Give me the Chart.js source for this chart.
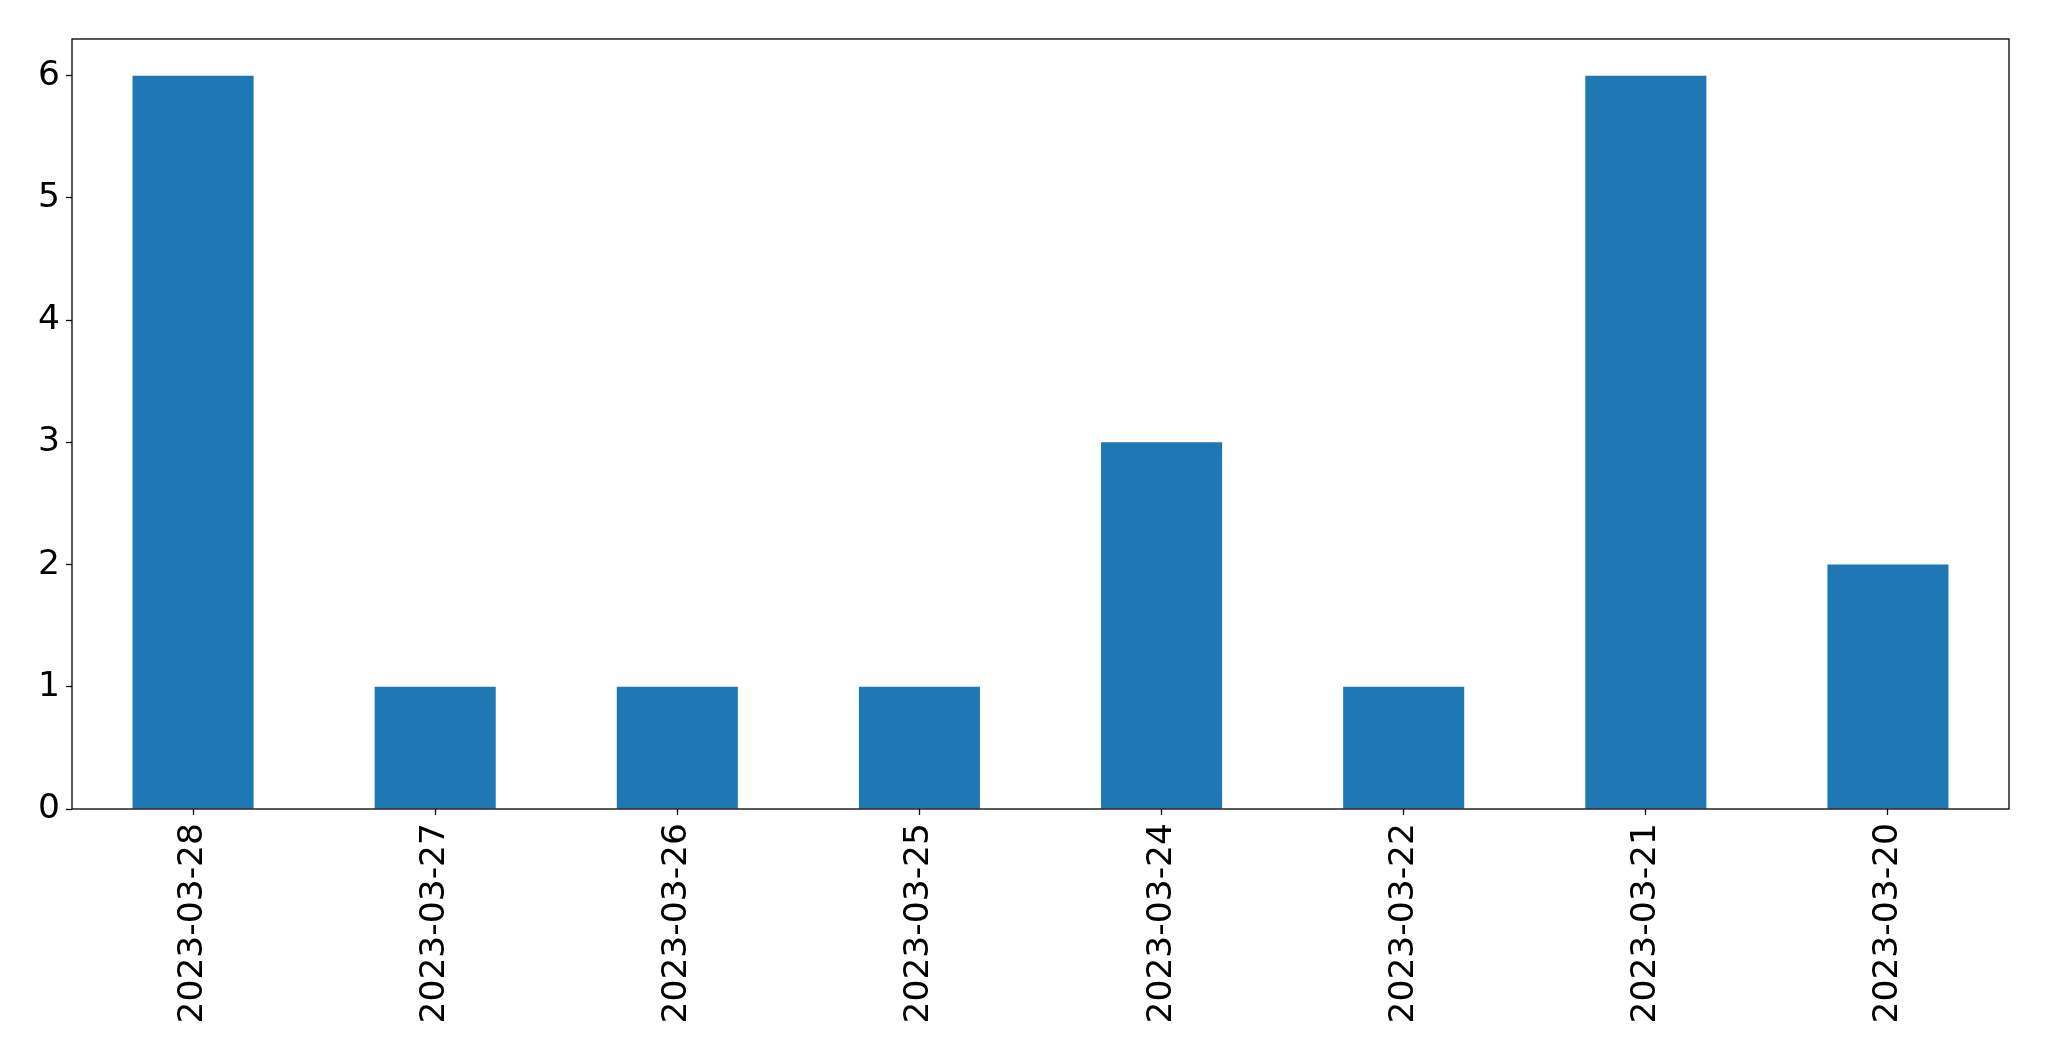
<!DOCTYPE html>
<html>
<head>
<meta charset="utf-8">
<script src="https://cdn.jsdelivr.net/npm/chart.js@4"></script>
<style>
  html, body { margin: 0; padding: 0; background: #fff; }
  canvas { display: block; }
</style>
</head>
<body>
<canvas id="myChart" width="2049" height="1061"></canvas>
<script>
const dates = ['2023-03-28', '2023-03-27', '2023-03-26', '2023-03-25', '2023-03-24', '2023-03-22', '2023-03-21', '2023-03-20'];
const counts = [6, 1, 1, 1, 3, 1, 6, 2];
const yTicks = [0, 1, 2, 3, 4, 5, 6];

// box around the plot area, like the matplotlib frame
const frame = {
    id: 'frame',
    afterDraw(chart) {
        const a = chart.chartArea;
        const ctx = chart.ctx;
        ctx.save();
        ctx.strokeStyle = '#000';
        ctx.lineWidth = 1.3;
        ctx.strokeRect(a.left, a.top, a.right - a.left, a.bottom - a.top);
        ctx.restore();
    }
};

const font = { family: 'DejaVu Sans', size: 34.5 };

const ctx = document.getElementById('myChart').getContext('2d');
new Chart(ctx, {
    type: 'bar',
    data: {
        labels: dates,
        datasets: [{
            data: counts,
            backgroundColor: '#1f77b4',
            borderWidth: 0,
            categoryPercentage: 1,
            barPercentage: 0.5
        }]
    },
    options: {
        responsive: false,
        animation: false,
        layout: { padding: { left: 0, top: 39, right: 40, bottom: 0 } },
        plugins: { legend: { display: false }, tooltip: { enabled: false } },
        scales: {
            x: {
                grid: { display: true, offset: false, drawOnChartArea: false, tickLength: 6, tickColor: '#000', tickWidth: 1.3 },
                border: { display: false },
                ticks: { color: '#000', font: font, minRotation: 90, maxRotation: 90, padding: 8, autoSkip: false },
                afterFit: s => { s.height = 1061 - 809; }
            },
            y: {
                min: 0,
                max: 6.3,
                afterBuildTicks: s => { s.ticks = yTicks.map(v => ({ value: v })); },
                grid: { display: true, drawOnChartArea: false, tickLength: 6, tickColor: '#000', tickWidth: 1.3 },
                border: { display: false },
                ticks: { color: '#000', font: font, padding: 6 },
                afterFit: s => { s.width = 72; }
            }
        }
    },
    plugins: [frame]
});
</script>
</body>
</html>
